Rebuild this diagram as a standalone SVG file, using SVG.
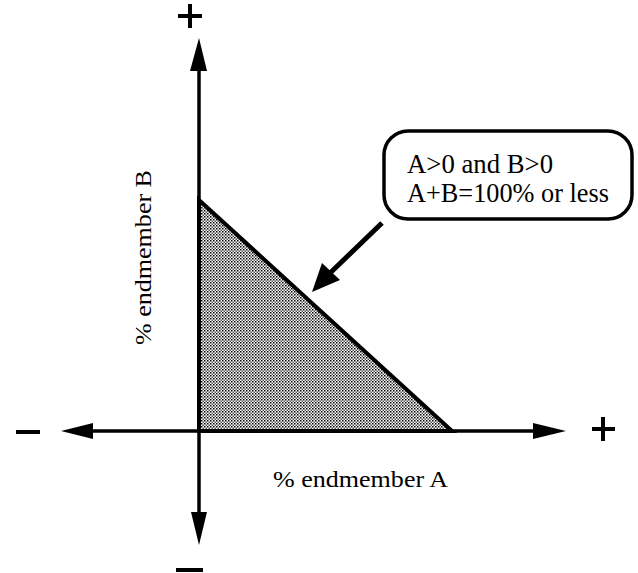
<svg xmlns="http://www.w3.org/2000/svg" width="638" height="573" viewBox="0 0 638 573">
<style>
.ax{stroke:#000;stroke-width:3.5;fill:none}
.sign{stroke:#000;stroke-width:4;fill:none;stroke-linecap:butt}
.head{fill:#000;stroke:none}
.t{font-family:"Liberation Serif","DejaVu Serif",serif;fill:#000}
</style>
<defs>
<pattern id="dots" width="3" height="3" patternUnits="userSpaceOnUse">
<rect width="3" height="3" fill="#fff"/>
<rect x="0" y="0" width="1.5" height="1.5" fill="#000"/>
<rect x="1.5" y="1.5" width="1.5" height="1.5" fill="#555"/>
</pattern>
</defs>
<g id="region">
<polygon points="199,200 199,431 452,431" fill="url(#dots)" stroke="#000" stroke-width="4" stroke-linejoin="miter"/>
</g>
<g id="connectors">
<line class="ax" x1="199" y1="66" x2="199" y2="518"/>
<line class="ax" x1="88" y1="431" x2="538" y2="431"/>
<polygon class="head" points="199,38 190,71 207,71"/>
<polygon class="head" points="199,545 191,512 207,512"/>
<polygon class="head" points="61,431 93,423 93,439"/>
<polygon class="head" points="566,431 533,423 533,439"/>
<line x1="382" y1="223" x2="328" y2="275" stroke="#000" stroke-width="5"/>
<polygon class="head" points="312,292 322,263 340,280"/>
</g>
<g id="signs">
<line class="sign" x1="178" y1="16" x2="202" y2="16"/>
<line class="sign" x1="190" y1="4" x2="190" y2="28"/>
<line class="sign" x1="16" y1="432" x2="40" y2="432"/>
<line class="sign" x1="592" y1="429" x2="615" y2="429"/>
<line class="sign" x1="603" y1="417" x2="603" y2="441"/>
<line class="sign" x1="176" y1="570" x2="203" y2="570"/>
</g>
<g id="callout">
<rect x="384" y="131" width="248" height="88" rx="24" ry="24" fill="#fff" stroke="#000" stroke-width="3.5"/>
<text class="t" x="407" y="173" font-size="27" textLength="146" lengthAdjust="spacingAndGlyphs">A&gt;0 and B&gt;0</text>
<text class="t" x="407" y="202" font-size="27" textLength="202" lengthAdjust="spacingAndGlyphs">A+B=100% or less</text>
</g>
<g id="labelA">
<text class="t" x="273" y="487" font-size="23" textLength="175" lengthAdjust="spacingAndGlyphs">% endmember A</text>
</g>
<g id="labelB">
<text class="t" transform="translate(151,345) rotate(-90)" x="0" y="0" font-size="23" textLength="175" lengthAdjust="spacingAndGlyphs">% endmember B</text>
</g>
</svg>
